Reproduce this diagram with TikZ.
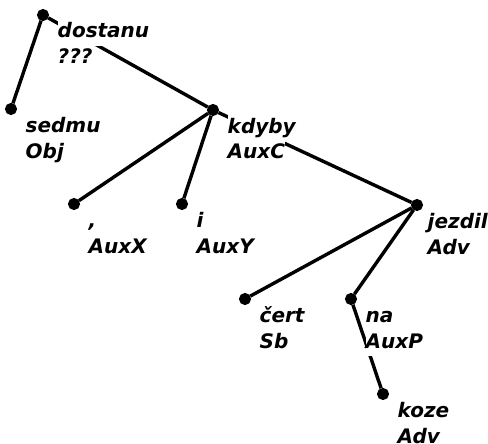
\documentclass[tikz,border=0pt]{standalone}
\usepackage{fontspec}
\setmainfont{DejaVu Sans}
\usepackage{tikz}
\usetikzlibrary{positioning}
\tikzstyle{vertex}=[draw,fill=black,circle,minimum size=8.5pt,inner sep=0pt]
\tikzstyle{tag}=[anchor=base west,align=left,inner sep=0pt,font=\fontsize{20}{26}\selectfont\bfseries\itshape]
\newcommand{\wordline}[1]{{\setlength{\fboxsep}{0pt}\colorbox{white}{\strut #1}}}
\newcommand{\wordtag}[2]{\wordline{#1}\\\wordline{#2}}

\begin{document}
\begin{tikzpicture}[x=1pt,y=-1pt,line width=3.4pt,
every edge/.style = {draw, line width=3.4pt}]
\useasboundingbox (0,0) rectangle (488,444);
% tokens
\node [vertex] (dostanu) at (43,15) {};
\node [vertex] (sedmu) at (11,109) {};
\node [vertex] (kdyby) at (213,110) {};
\node [vertex] (comma) at (74,204) {};
\node [vertex] (i) at (182,204) {};
\node [vertex] (jezdil) at (417,205) {};
\node [vertex] (cert) at (245,299) {};
\node [vertex] (na) at (351,299) {};
\node [vertex] (koze) at (383,394) {};
% dependencies
\draw (dostanu) edge (sedmu) edge (kdyby);
\draw (kdyby) edge (comma) edge (i) edge (jezdil);
\draw (jezdil) edge (cert) edge (na);
\draw (na) edge (koze);
% word and afun (base is the second line)
\node [tag] (dostanu-tag) at ([shift={(13,49)}]dostanu.center) {\wordtag{dostanu}{???}};
\node [tag] (sedmu-tag) at ([shift={(13,49)}]sedmu.center) {\wordtag{sedmu}{Obj}};
\node [tag] (kdyby-tag) at ([shift={(13,49)}]kdyby.center) {\wordtag{kdyby}{AuxC}};
\node [tag] (comma-tag) at ([shift={(13,49)}]comma.center) {\wordtag{,}{AuxX}};
\node [tag] (i-tag) at ([shift={(13,49)}]i.center) {\wordtag{i}{AuxY}};
\node [tag] (jezdil-tag) at ([shift={(9,49)}]jezdil.center) {\wordtag{jezdil}{Adv}};
\node [tag] (cert-tag) at ([shift={(13,49)}]cert.center) {\wordtag{čert}{Sb}};
\node [tag] (na-tag) at ([shift={(13,49)}]na.center) {\wordtag{na}{AuxP}};
\node [tag] (koze-tag) at ([shift={(13,49)}]koze.center) {\wordtag{koze}{Adv}};
\end{tikzpicture}
\end{document}
